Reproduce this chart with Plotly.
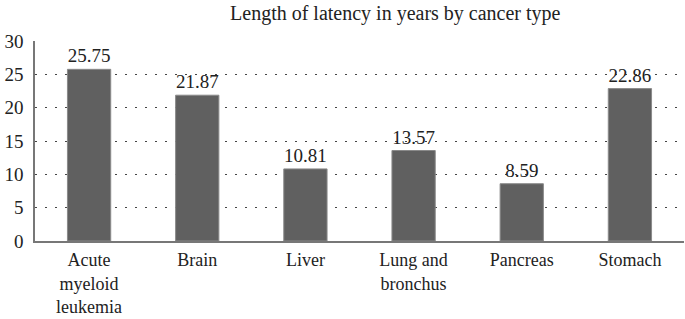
import plotly.graph_objects as go

categories = ["Acute<br>myeloid<br>leukemia", "Brain", "Liver", "Lung and<br>bronchus", "Pancreas", "Stomach"]
values = [25.75, 21.87, 10.81, 13.57, 8.59, 22.86]
labels = ["25.75", "21.87", "10.81", "13.57", "8.59", "22.86"]
y_ticks = [0, 5, 10, 15, 20, 25, 30]

font_family = "Liberation Serif, DejaVu Serif, serif"

fig = go.Figure(go.Bar(
    x=categories, y=values, text=labels, textposition="outside",
    textfont=dict(family=font_family, size=19, color="#222"),
    marker=dict(color="#606060", line=dict(color="#8a8a8a", width=1)),
    cliponaxis=False,
))

fig.update_layout(
    width=685, height=319,
    margin=dict(l=35, r=1, t=41, b=78),
    paper_bgcolor="white", plot_bgcolor="white",
    bargap=0.6,
    showlegend=False,
    title=dict(text="Length of latency in years by cancer type", x=0.577, xanchor="center",
               y=0.958, yanchor="middle",
               font=dict(family=font_family, size=20, color="#222")),
    font=dict(family=font_family, size=18, color="#222"),
)
fig.update_xaxes(showline=True, linecolor="#777", linewidth=1.5, ticks="", showgrid=False,
                 automargin=False, ticklabelstandoff=2,
                 tickfont=dict(family=font_family, size=18, color="#222"))
fig.update_yaxes(range=[0, 30], tickvals=y_ticks, showline=True, linecolor="#777", linewidth=1.5,
                 showgrid=True, gridcolor="#444", griddash="2px,8px", gridwidth=1.2, zeroline=False,
                 automargin=False, ticks="", ticklabelstandoff=6,
                 tickfont=dict(family=font_family, size=19, color="#222"))

fig.write_html("out.html", config={"displayModeBar": False},
               post_script="document.body.style.margin='0';document.body.style.overflow='hidden';")
